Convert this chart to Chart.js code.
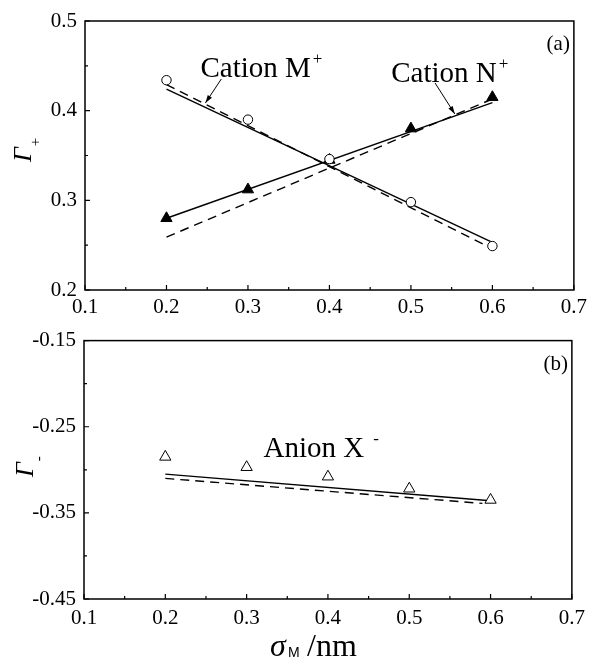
<!DOCTYPE html>
<html>
<head>
<meta charset="utf-8">
<title>Surface excess vs sigma_M</title>
<script src="https://cdn.jsdelivr.net/npm/chart.js@4.4.1/dist/chart.umd.min.js"></script>
<style>
  body { margin: 0; background: #fff; }
  canvas { display: block; }
</style>
</head>
<body>
<canvas id="chartA" width="592" height="320"></canvas>
<canvas id="chartB" width="592" height="347"></canvas>
<script>
// ion diameter sigma_M (nm)
var sigmaM = [0.2, 0.3, 0.4, 0.5, 0.6];

// panel (a): cations
var gammaM = [0.434, 0.390, 0.346, 0.298, 0.249];
var gammaN = [0.280, 0.312, 0.345, 0.380, 0.415];

// panel (b): anion
var gammaX = [-0.285, -0.297, -0.308, -0.322, -0.335];

// theory lines, given by their end points
var fitX = [0.2, 0.6];
var fitMSolid = [0.424, 0.253];
var fitMDash = [0.429, 0.246];
var fitNSolid = [0.280, 0.409];
var fitNDash = [0.259, 0.413];
var fitXSolid = [-0.305, -0.336];
var fitXDashX = [0.2, 0.59];
var fitXDash = [-0.310, -0.339];

// tick values
var xTicks = [0.1, 0.2, 0.3, 0.4, 0.5, 0.6, 0.7];
var yTicksA = [0.2, 0.3, 0.4, 0.5];
var yTicksB = [-0.45, -0.35, -0.25, -0.15];

var SERIF = "'Liberation Serif', 'DejaVu Serif', serif";

function pts(xs, ys) {
    return xs.map((x, i) => ({ x: x, y: ys[i] }));
}

function midpoints(arr) {
    var out = [];
    for (let i = 0; i < arr.length - 1; i++) out.push((arr[i] + arr[i + 1]) / 2);
    return out;
}

function markerSet(ys, style, fill, radius) {
    return {
        data: pts(sigmaM, ys),
        showLine: false,
        pointStyle: style,
        pointRadius: radius,
        pointBackgroundColor: fill,
        pointBorderColor: '#000',
        pointBorderWidth: 1,
        order: 1
    };
}

function lineSet(xs, ys, dash) {
    return {
        data: pts(xs, ys),
        showLine: true,
        borderColor: '#000',
        borderWidth: 1.4,
        borderDash: dash ? [9, 6] : [],
        pointRadius: 0,
        order: 2
    };
}

// frame, inward ticks, axis titles and notes
const framePlugin = {
    id: 'frame',
    afterDraw(chart, args, opts) {
        const ctx = chart.ctx, a = chart.chartArea;
        const xs = chart.scales.x, ys = chart.scales.y;
        ctx.save();
        ctx.strokeStyle = '#000';
        ctx.fillStyle = '#000';
        ctx.lineWidth = 1.5;
        ctx.strokeRect(a.left, a.top, a.right - a.left, a.bottom - a.top);

        ctx.lineWidth = 1.2;
        ctx.beginPath();
        opts.xMajor.forEach(v => {
            const p = xs.getPixelForValue(v);
            ctx.moveTo(p, a.bottom); ctx.lineTo(p, a.bottom - 5);
        });
        midpoints(opts.xMajor).forEach(v => {
            const p = xs.getPixelForValue(v);
            ctx.moveTo(p, a.bottom); ctx.lineTo(p, a.bottom - 3);
        });
        opts.yMajor.forEach(v => {
            const p = ys.getPixelForValue(v);
            ctx.moveTo(a.left, p); ctx.lineTo(a.left + 5, p);
        });
        midpoints(opts.yMajor).forEach(v => {
            const p = ys.getPixelForValue(v);
            ctx.moveTo(a.left, p); ctx.lineTo(a.left + 3, p);
        });
        ctx.stroke();

        // text notes with optional superscript
        ctx.textAlign = 'left';
        ctx.textBaseline = 'alphabetic';
        (opts.notes || []).forEach(n => {
            const px = xs.getPixelForValue(n.x), py = ys.getPixelForValue(n.y);
            ctx.font = n.size + 'px ' + SERIF;
            ctx.fillText(n.text, px, py);
            if (n.sup) {
                const w = ctx.measureText(n.text).width;
                ctx.font = Math.round(n.size * 0.6) + 'px ' + SERIF;
                ctx.fillText(n.sup, px + w + n.supGap, py - n.size * 0.45);
            }
        });

        // annotation arrows
        ctx.lineWidth = 1;
        (opts.arrows || []).forEach(ar => {
            const x0 = xs.getPixelForValue(ar.from[0]), y0 = ys.getPixelForValue(ar.from[1]);
            const x1 = xs.getPixelForValue(ar.to[0]), y1 = ys.getPixelForValue(ar.to[1]);
            const ang = Math.atan2(y1 - y0, x1 - x0);
            ctx.beginPath();
            ctx.moveTo(x0, y0); ctx.lineTo(x1, y1);
            ctx.stroke();
            ctx.beginPath();
            ctx.moveTo(x1, y1);
            ctx.lineTo(x1 - 8 * Math.cos(ang) + 2.5 * Math.sin(ang), y1 - 8 * Math.sin(ang) - 2.5 * Math.cos(ang));
            ctx.lineTo(x1 - 8 * Math.cos(ang) - 2.5 * Math.sin(ang), y1 - 8 * Math.sin(ang) + 2.5 * Math.cos(ang));
            ctx.closePath();
            ctx.fill();
        });

        // panel tag
        ctx.font = '21px ' + SERIF;
        ctx.textAlign = 'right';
        ctx.fillText(opts.tag, a.right - 4, a.top + 29);

        // rotated y title: italic Gamma with subscript sign
        const t = opts.yTitle;
        ctx.translate(t.x, t.y);
        ctx.rotate(-Math.PI / 2);
        ctx.textAlign = 'left';
        ctx.font = 'italic 26px ' + SERIF;
        ctx.fillText('\u0393', 0, 0);
        const gw = ctx.measureText('\u0393').width;
        ctx.font = '15px ' + SERIF;
        ctx.fillText(t.sub, gw + 1, t.subDrop);
        ctx.setTransform(1, 0, 0, 1, 0, 0);

        // x title
        if (opts.xTitle) {
            const x = opts.xTitle;
            ctx.textAlign = 'left';
            ctx.font = 'italic 32px ' + SERIF;
            ctx.fillText('\u03C3', x.x, x.y);
            ctx.font = "14px 'Liberation Sans', Arial, sans-serif";
            ctx.fillText('M', x.x + 18, x.y + 1);
            ctx.font = '32px ' + SERIF;
            ctx.fillText('/nm', x.x + 37, x.y);
        }
        ctx.restore();
    }
};

function makeScales(yTicks, dec, box) {
    return {
        x: {
            type: 'linear',
            min: xTicks[0],
            max: xTicks[xTicks.length - 1],
            afterBuildTicks: s => { s.ticks = xTicks.map(v => ({ value: v })); },
            afterFit: s => { s.height = box.xHeight; },
            grid: { display: false, drawTicks: false },
            border: { display: false },
            ticks: {
                color: '#000',
                padding: box.xPad,
                maxRotation: 0,
                font: { family: SERIF, size: 21 },
                callback: v => v.toFixed(1)
            }
        },
        y: {
            type: 'linear',
            min: yTicks[0],
            max: yTicks[yTicks.length - 1],
            afterBuildTicks: s => { s.ticks = yTicks.map(v => ({ value: v })); },
            afterFit: s => { s.width = box.yWidth; },
            grid: { display: false, drawTicks: false },
            border: { display: false },
            ticks: {
                color: '#000',
                padding: 8,
                font: { family: SERIF, size: 21 },
                callback: v => v.toFixed(dec)
            }
        }
    };
}

var chartA = new Chart(document.getElementById('chartA'), {
    type: 'scatter',
    data: {
        datasets: [
            markerSet(gammaM, 'circle', '#fff', 4.7),
            markerSet(gammaN, 'triangle', '#000', 6.5),
            lineSet(fitX, fitMSolid, false),
            lineSet(fitX, fitMDash, true),
            lineSet(fitX, fitNSolid, false),
            lineSet(fitX, fitNDash, true)
        ]
    },
    options: {
        responsive: false,
        animation: false,
        devicePixelRatio: 1,
        layout: { padding: { left: 0, right: 13, top: 21, bottom: 0 } },
        scales: makeScales(yTicksA, 1, { xHeight: 30, yWidth: 85, xPad: 5 }),
        plugins: {
            legend: { display: false },
            tooltip: { enabled: false },
            frame: {
                xMajor: xTicks,
                yMajor: yTicksA,
                tag: '(a)',
                notes: [
                    { text: 'Cation M', sup: '+', x: 0.2417, y: 0.4375, size: 29, supGap: 2 },
                    { text: 'Cation N', sup: '+', x: 0.4759, y: 0.4320, size: 29, supGap: 2 }
                ],
                arrows: [
                    { from: [0.2673, 0.4353], to: [0.2478, 0.4086] },
                    { from: [0.5296, 0.4309], to: [0.5539, 0.3963] }
                ],
                yTitle: { x: 31, y: 162, sub: '+', subDrop: 9 }
            }
        }
    },
    plugins: [framePlugin]
});

var chartB = new Chart(document.getElementById('chartB'), {
    type: 'scatter',
    data: {
        datasets: [
            markerSet(gammaX, 'triangle', '#fff', 6.5),
            lineSet(fitX, fitXSolid, false),
            lineSet(fitXDashX, fitXDash, true)
        ]
    },
    options: {
        responsive: false,
        animation: false,
        devicePixelRatio: 1,
        layout: { padding: { left: 0, right: 16, top: 13, bottom: 0 } },
        scales: makeScales(yTicksB, 2, { xHeight: 68, yWidth: 84, xPad: 7 }),
        plugins: {
            legend: { display: false },
            tooltip: { enabled: false },
            frame: {
                xMajor: xTicks,
                yMajor: yTicksB,
                tag: '(b)',
                notes: [
                    { text: 'Anion X', sup: '-', x: 0.3207, y: -0.2853, size: 29, supGap: 9 }
                ],
                yTitle: { x: 33, y: 157, sub: '-', subDrop: 10 },
                xTitle: { x: 270, y: 336 }
            }
        }
    },
    plugins: [framePlugin]
});
</script>
</body>
</html>
